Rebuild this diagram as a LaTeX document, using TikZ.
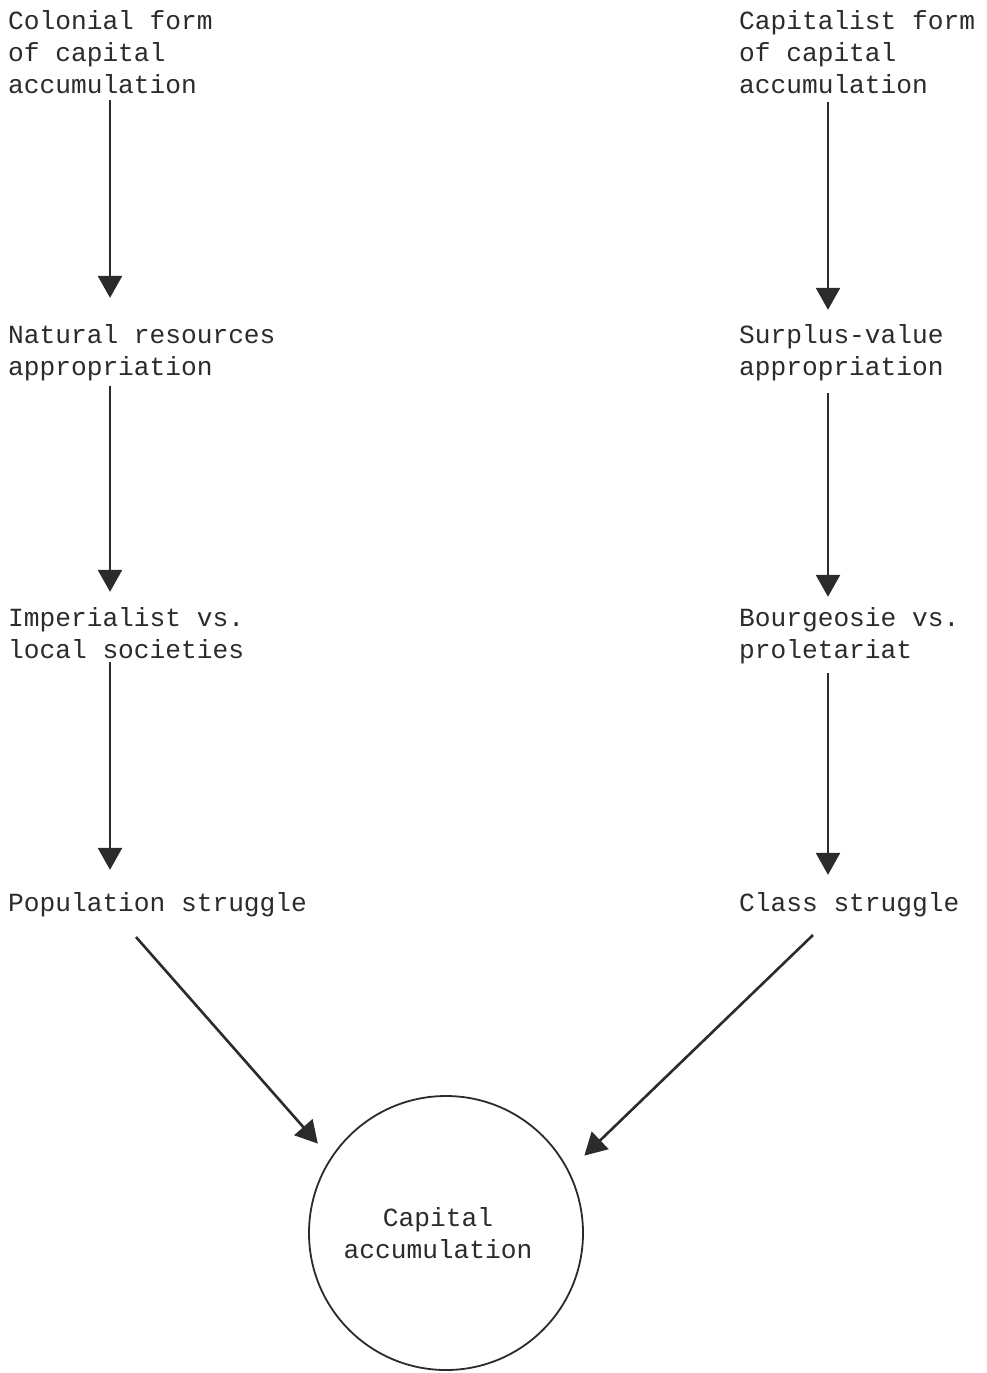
\documentclass[tikz,border=0pt]{standalone}
\usepackage{fontspec}
\setmonofont{Liberation Mono}
\usetikzlibrary{arrows.meta,calc}
\definecolor{ink}{HTML}{2B2B2B}
\tikzset{
  lbl/.style={anchor=base west, inner sep=0pt, align=left, text=ink,
    font=\ttfamily\fontsize{26.2}{32}\selectfont},
  arr/.style={draw=ink, line width=2.6pt,
    -{Triangle[width=24pt,length=22pt]}},
}
\begin{document}
\begin{tikzpicture}[x=1pt,y=-1pt]
\useasboundingbox (0,0) rectangle (987,1373);
\fill[white] (0,0) rectangle (987,1373);
\coordinate (colL) at (110,0);
\coordinate (colR) at (828,0);
% left column (anchor = baseline of last line)
\node[lbl] (l1) at (8,93) {Colonial form\\of capital\\accumulation};
\node[lbl] (l2) at (8,375) {Natural resources\\appropriation};
\node[lbl] (l3) at (8,658) {Imperialist vs.\\local societies};
\node[lbl] (l4) at (8,911) {Population struggle};
% right column
\node[lbl] (r1) at (739,93) {Capitalist form\\of capital\\accumulation};
\node[lbl] (r2) at (739,375) {Surplus-value\\appropriation};
\node[lbl] (r3) at (739,658) {Bourgeosie vs.\\proletariat};
\node[lbl] (r4) at (739,911) {Class struggle};
% circle
\node[circle, draw=ink, line width=1.8pt, minimum size=274pt, inner sep=0pt,
  align=center, text=ink, font=\ttfamily\fontsize{26.2}{32}\selectfont]
  (cap) at (446,1233) {\hspace*{-16pt}Capital\\\hspace*{-16pt}accumulation};
% vertical arrows
\draw[arr, shorten <=7pt, shorten >=26pt] (l1.south -| colL) -- (l2.north -| colL);
\draw[arr, shorten <=5pt, shorten >=15pt] (l2.south -| colL) -- (l3.north -| colL);
\draw[arr, shorten <=4pt, shorten >=22pt] (l3.south -| colL) -- (l4.north -| colL);
\draw[arr, shorten <=9pt, shorten >=14pt] (r1.south -| colR) -- (r2.north -| colR);
\draw[arr, shorten <=12pt, shorten >=10pt] (r2.south -| colR) -- (r3.north -| colR);
\draw[arr, shorten <=9pt, shorten >=17pt] (r3.south -| colR) -- (r4.north -| colR);
% diagonal arrows
\coordinate (d1) at (136,937);
\coordinate (d2) at (813,935);
\draw[arr] (d1) -- ([shift={(-12.5,-14.3)}]cap.147.5);
\draw[arr] (d2) -- ([shift={(15.5,-14.8)}]cap.27.5);
\end{tikzpicture}
\end{document}
